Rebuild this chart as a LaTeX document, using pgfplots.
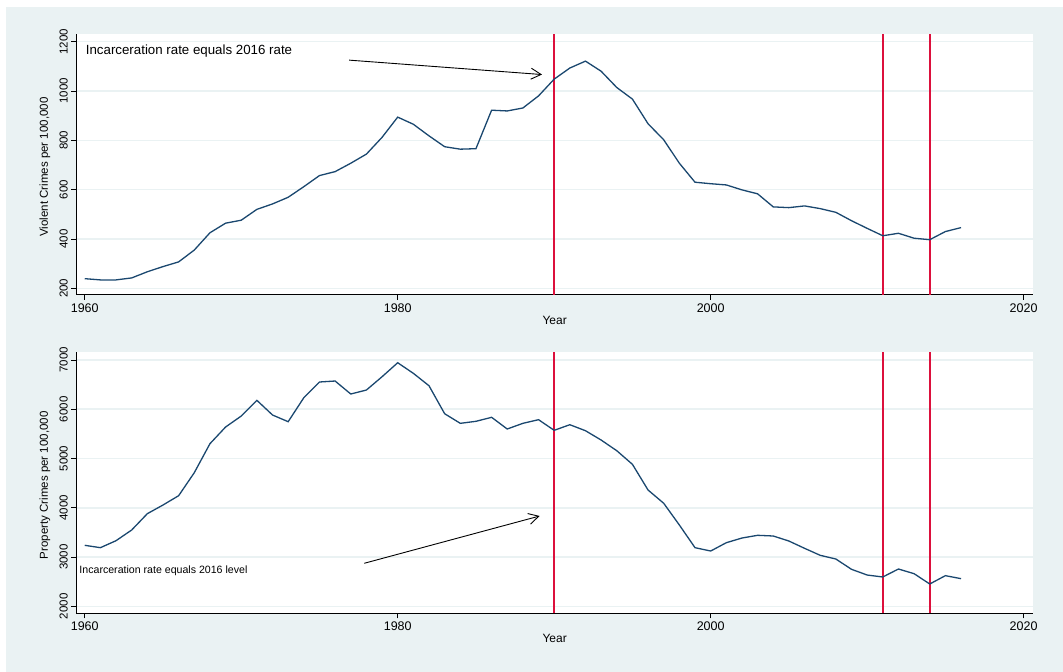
\documentclass[border=0pt]{standalone}
\usepackage{pgfplots}
\pgfplotsset{compat=1.18}
\usepackage{pgfplotstable}
\usepackage{fontspec}
\setmainfont{Liberation Sans}
\usetikzlibrary{arrows.meta}
\definecolor{stbg}{RGB}{234,242,243}
\definecolor{stnavy}{RGB}{26,71,111}
\definecolor{stred}{RGB}{220,16,60}
\definecolor{stgrid}{RGB}{234,242,243}

\pgfplotstableread{
year violent property
1960 239 3238
1961 234 3190
1962 234 3332
1963 242 3549
1964 267 3880
1965 288 4056
1966 307 4245
1967 355 4712
1968 425 5300
1969 464 5639
1970 476 5862
1971 520 6181
1972 542 5883
1973 569 5747
1974 612 6234
1975 657 6553
1976 673 6573
1977 707 6309
1978 744 6390
1979 812 6660
1980 894 6944
1981 865 6729
1982 818 6477
1983 774 5909
1984 764 5714
1985 766 5755
1986 922 5836
1987 919 5599
1988 931 5714
1989 980 5788
1990 1048 5572
1991 1093 5686
1992 1121 5564
1993 1080 5375
1994 1014 5158
1995 967 4882
1996 867 4360
1997 802 4091
1998 707 3650
1999 630 3190
2000 624 3122
2001 619 3291
2002 599 3386
2003 583 3441
2004 530 3427
2005 527 3325
2006 534 3177
2007 523 3035
2008 508 2960
2009 474 2751
2010 443 2635
2011 413 2595
2012 423 2757
2013 403 2662
2014 397 2453
2015 430 2622
2016 446 2561
}\crimedata

\begin{document}
\begin{tikzpicture}
\fill[white] (0pt,0pt) rectangle (1063pt,672pt);
\fill[stbg] (6pt,0pt) rectangle (1063pt,665pt);
\pgfplotsset{
  stbase/.style={
    scale only axis, width=956.7pt,
    xmin=1959.46, xmax=2020.6,
    axis x line*=bottom, axis y line*=left,
    axis line style={line width=1pt, black, -},
    axis background/.style={fill=white},
    xtick={1960,1980,2000,2020},
    tick align=outside, major tick length=5pt,
    tick style={black, line width=0.8pt},
    minor tick num=0,
    ymajorgrids, grid style={stgrid, line width=1.5pt},
    /pgf/number format/assume math mode=true,
    /pgf/number format/1000 sep={},
    scaled ticks=false,
    xticklabel style={font=\fontsize{12.5}{14}\selectfont},
    yticklabel style={rotate=90, anchor=south, font=\fontsize{11.5}{13}\selectfont},
    label style={font=\fontsize{12}{14}\selectfont},
    xlabel={Year},
    clip=true,
  }
}
% top panel
\begin{axis}[stbase, at={(76.3pt,377pt)}, anchor=south west, height=261pt,
  ymin=172.8, ymax=1231, ytick={200,400,...,1200},
  ylabel={Violent Crimes per 100,000},
  ylabel style={at={(axis description cs:-0.0327,0.49)}, anchor=center, font=\fontsize{11.5}{13}\selectfont},
  xlabel style={at={(axis description cs:0.5,-0.0958)}, anchor=center},
]
\addplot[color=stred, line width=1.8pt] coordinates {(1990,172.8) (1990,1231)};
\addplot[color=stred, line width=1.8pt] coordinates {(2011,172.8) (2011,1231)};
\addplot[color=stred, line width=1.8pt] coordinates {(2014,172.8) (2014,1231)};
\addplot[color=stnavy, line width=1.3pt, no marks] table[x=year, y=violent] {\crimedata};
\node[anchor=base west, inner sep=0, font=\fontsize{13.3}{15}\selectfont] at (axis cs:1960.06,1146.5) {Incarceration rate equals 2016 rate};
\draw[black, line width=0.9pt, -{Straight Barb[length=10pt, width=11pt]}] (axis cs:1976.9,1125) -- (axis cs:1989.22,1066.6);
\end{axis}
% bottom panel
\begin{axis}[stbase, at={(76.3pt,58.7pt)}, anchor=south west, height=261.3pt,
  ymin=1858, ymax=7162, ytick={2000,3000,...,7000},
  ylabel={Property Crimes per 100,000},
  ylabel style={at={(axis description cs:-0.0327,0.49)}, anchor=center, font=\fontsize{11.5}{13}\selectfont},
  xlabel style={at={(axis description cs:0.5,-0.0945)}, anchor=center},
]
\addplot[color=stred, line width=1.8pt] coordinates {(1990,1858) (1990,7162)};
\addplot[color=stred, line width=1.8pt] coordinates {(2011,1858) (2011,7162)};
\addplot[color=stred, line width=1.8pt] coordinates {(2014,1858) (2014,7162)};
\addplot[color=stnavy, line width=1.3pt, no marks] table[x=year, y=property] {\crimedata};
\node[anchor=base west, inner sep=0, font=\fontsize{10.6}{12}\selectfont] at (axis cs:1959.65,2656) {Incarceration rate equals 2016 level};
\draw[black, line width=0.9pt, -{Straight Barb[length=10pt, width=11pt]}] (axis cs:1977.86,2873) -- (axis cs:1989.07,3833);
\end{axis}
\end{tikzpicture}
\end{document}
